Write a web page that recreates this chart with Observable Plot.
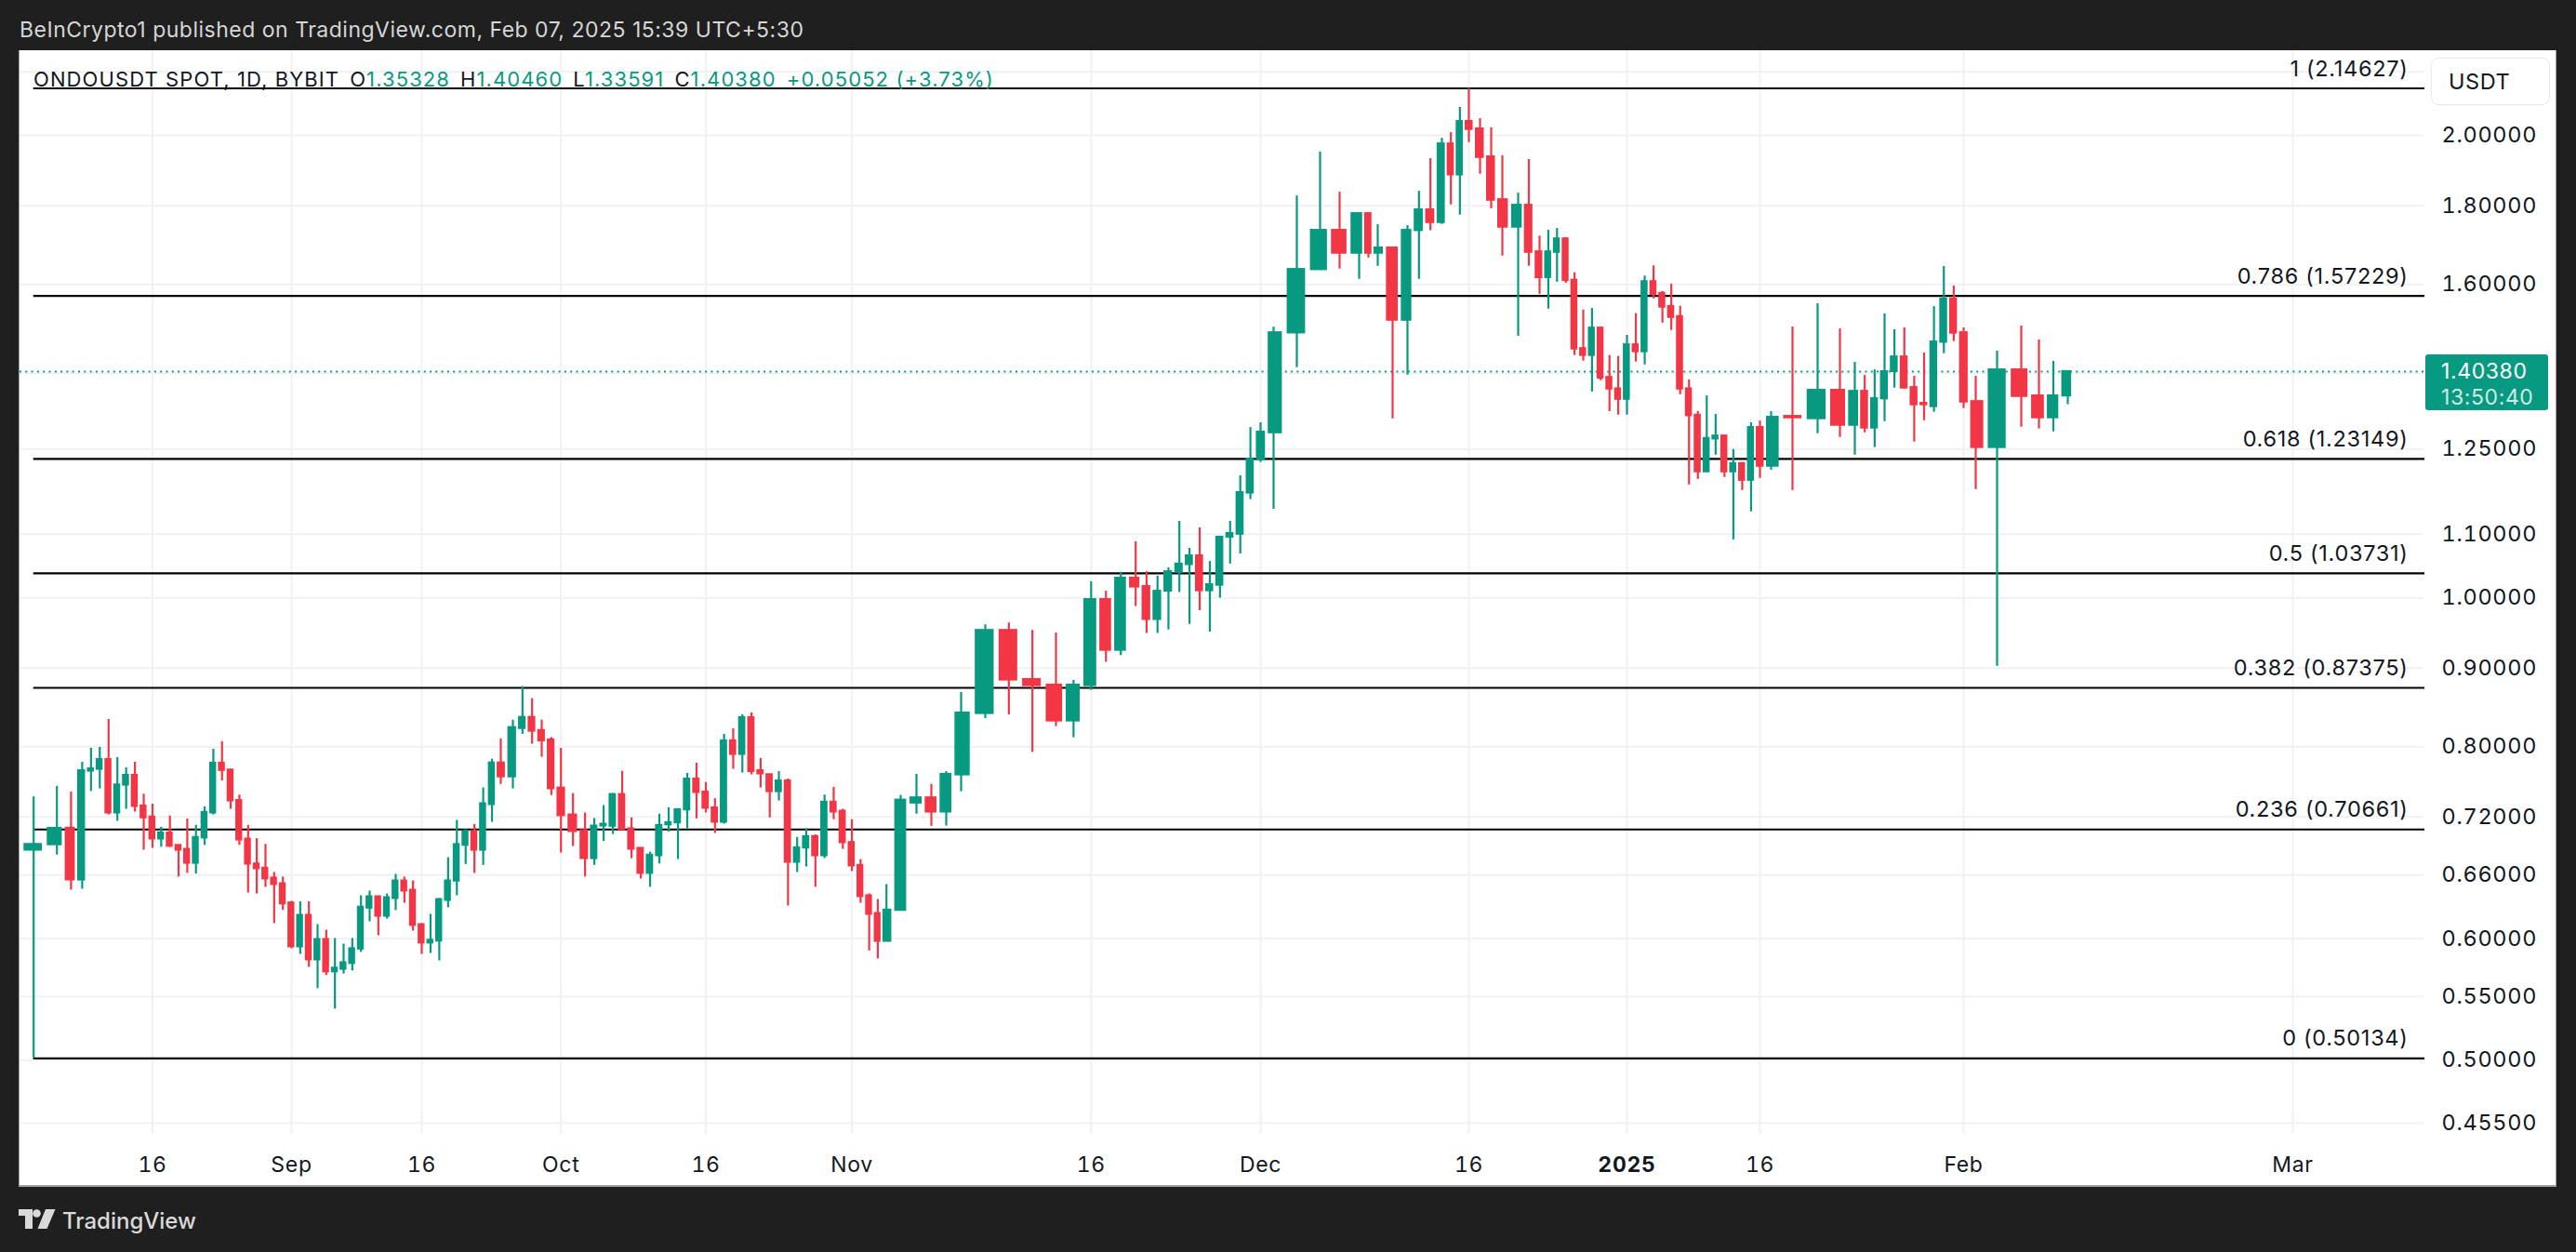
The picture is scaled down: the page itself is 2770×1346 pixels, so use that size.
<!DOCTYPE html>
<html>
<head>
<meta charset="utf-8">
<script src="https://cdn.jsdelivr.net/npm/d3@7"></script>
<script src="https://cdn.jsdelivr.net/npm/@observablehq/plot@0.6"></script>
<style>
  html, body { margin: 0; padding: 0; background: #1f1f1f; width: 2770px; height: 1346px; overflow: hidden; }
  body { font-family: Inter, "Noto Sans", sans-serif; }
  #stage { position: relative; width: 2770px; height: 1346px; }
  #panel { position: absolute; left: 20px; top: 54px; width: 2729px; height: 1222px; background: #ffffff;
           box-sizing: border-box; border-left: 1px solid #a0a0a0; border-right: 1px solid #a0a0a0; border-bottom: 2px solid #a0a0a0; }
  #chart { position: absolute; left: 0; top: 0; }
  #title { position: absolute; left: 21px; top: 18px; font-size: 23px; line-height: 28px; letter-spacing: 0.5px; color: #d6d6d6; white-space: nowrap; }
  #symbol { position: absolute; left: 36px; top: 72px; font-size: 22px; line-height: 26px; letter-spacing: 1.1px; color: #131722; white-space: nowrap; }
  #symbol .v { color: #089981; }
  #symbol .g { margin-left: 11px; }
  #usdt { position: absolute; left: 2614px; top: 62px; width: 128px; height: 51px; box-sizing: border-box;
          border: 1px solid #e6e8ee; border-radius: 8px; font-size: 23.5px; line-height: 49px; padding-left: 18px; letter-spacing: 0.6px; color: #131722; }
  #tag { position: absolute; left: 2608px; width: 132px; height: 60px; background: #089981; border-radius: 3px; color: #fff; letter-spacing: 0.6px; }
  #tag .l1 { position: absolute; left: 17px; top: 4px; font-size: 23px; line-height: 28px; }
  #tag .l2 { position: absolute; left: 17px; top: 32px; font-size: 23px; line-height: 28px; color: rgba(255,255,255,0.82); }
  #footer { position: absolute; left: 20px; top: 1298px; height: 30px; color: #d9d9d9; font-size: 24px; line-height: 29px; white-space: nowrap; }
  #footer svg { position: absolute; left: 0; top: 2px; }
  #footer span { position: absolute; left: 47px; top: 0; font-weight: 500; }
</style>
</head>
<body>
<div id="stage">
  <div id="panel"></div>
  <div id="chart"></div>
  <div id="title">BeInCrypto1 published on TradingView.com, Feb 07, 2025 15:39 UTC+5:30</div>
  <div id="symbol"></div>
  <div id="usdt">USDT</div>
  <div id="tag"><div class="l1"></div><div class="l2"></div></div>
  <div id="footer">
    <svg width="40" height="22" viewBox="0 0 40 22">
      <path d="M0 0 H15 V21 H7 V7 H0 Z" fill="#d9d9d9"/>
      <circle cx="19.5" cy="4.5" r="4.3" fill="#d9d9d9"/>
      <path d="M29 0 H39.5 L30.5 21 H20.5 Z" fill="#d9d9d9"/>
    </svg>
    <span>TradingView</span>
  </div>
</div>
<script>
// ---------- data (daily candles, ONDOUSDT, Bybit) ----------
const firstDay = "2024-08-05";
const candleCount = 187; // 2024-08-05 .. 2025-02-07

const open = [
  .685,.6906,.708,.655,.7711,.7733,.7848,.7243,.7552,.7665,.732,.72,.6966,.703,.690,.686,.6717,.6976,.7243,.7805,.7726,.738,.6966,.6711,.6668,.657,.6515,
  .633,.5926,.6213,.5811,.5992,.5708,.573,.578,.5906,.628,.6389,.6204,.6371,.6542,.6452,.6127,.596,.5977,.6353,.654,.69,.7044,.685,.7334,.7808,.7646,.822,.836,.8198,.8082,
  .752,.7222,.7054,.6764,.7103,.71,.7447,.7074,.687,.6616,.6793,.7115,.7136,.7276,.7622,.7475,.73,.7143,.8071,.7907,.8357,.7718,.7672,.7478,.760,.6727,.6872,.6992,.6793,.7362,.7263,
  .693,.6696,.6398,.6231,.5975,.6259,.7351,.741,.7253,.7668,.8407,.9524,.8848,.8774,.8314,.8766,.9975,.9243,1.030,1.0172,.968,1.010,1.039,1.051,1.065,1.0106,1.019,1.095,1.100,1.170,
  1.2305,1.2806,1.4874,1.6354,1.735,1.6762,1.779,1.6762,1.6897,1.516,1.734,1.789,1.7551,1.975,1.885,2.0424,2.020,1.937,1.8165,1.743,1.8015,1.68,1.616,1.6785,1.713,1.610,1.4532,1.438,1.4985,1.3917,1.368,
  1.3465,1.4614,1.446,1.6065,1.5785,1.548,1.5245,1.368,1.315,1.2078,1.2688,1.2747,1.2078,1.223,1.1926,1.291,1.218,1.3127,1.3079,1.365,1.2951,1.363,1.2897,1.3474,1.4036,1.4352,1.3707,1.3386,1.3318,1.4667,1.5649,
  1.4881,1.3422,1.2526,1.4075,1.3536,1.3097,1.35328
];
const high = [
  .742,.7538,.7475,.7815,.7981,.7992,.8333,.787,.775,.7815,.745,.734,.709,.721,.690,.7179,.711,.731,.797,.806,.7726,.744,.711,.697,.691,.6625,.658,
  .6345,.634,.634,.6127,.6076,.600,.595,.600,.6398,.6443,.6389,.6415,.6606,.658,.6542,.6136,.6222,.6371,.6774,.7163,.7064,.712,.752,.7852,.8093,.8325,.8754,.8597,.8325,.811,
  .798,.7457,.7243,.7183,.7324,.7457,.771,.719,.687,.683,.723,.730,.729,.7686,.7805,.758,.740,.815,.8218,.8392,.8415,.786,.7672,.7707,.7622,.6982,.7073,.701,.744,.7527,.7284,
  .717,.6755,.6416,.6362,.6506,.7437,.7676,.756,.7707,.8679,.9604,.963,.9524,.9487,.8836,1.0244,1.010,1.039,1.0876,1.040,1.033,1.046,1.1214,1.077,1.1106,1.056,1.0953,1.1214,1.2008,1.2909,
  1.300,1.5004,1.8267,1.951,1.8369,1.7815,1.779,1.7495,1.6897,1.747,1.8395,1.9315,1.9915,2.0084,2.0857,2.1463,2.051,2.023,1.94,1.8343,1.929,1.72,1.735,1.7397,1.7155,1.628,1.5395,1.543,1.5004,1.438,1.436,
  1.482,1.531,1.620,1.645,1.583,1.600,1.548,1.3866,1.3225,1.3536,1.3164,1.2747,1.249,1.2248,1.300,1.3035,1.322,1.5009,1.554,1.4966,1.4233,1.3958,1.4075,1.5304,1.4946,1.4987,1.3939,1.4435,1.5475,1.6432,1.5958,
  1.4987,1.3939,1.4474,1.5031,1.4718,1.4253,1.4046
];
const low = [
  .50134,.6801,.6452,.6461,.748,.751,.7222,.7153,.7283,.7253,.685,.687,.688,.688,.658,.6616,.661,.690,.7222,.760,.7283,.690,.6425,.6415,.6479,.6136,.626,
  .591,.586,.5747,.5566,.5676,.5398,.569,.5716,.5877,.6153,.6025,.6178,.6257,.6327,.6068,.586,.5868,.5803,.6284,.6398,.6705,.6616,.6696,.7143,.756,.751,.815,.803,.7874,.7435,
  .6821,.6888,.658,.6696,.694,.7014,.7054,.6764,.656,.648,.671,.704,.6755,.7073,.718,.7244,.7025,.7123,.7733,.769,.7668,.752,.719,.7375,.630,.6625,.668,.648,.6765,.717,.6859,
  .6634,.6327,.589,.582,.5975,.6259,.723,.710,.7102,.7478,.8345,.839,.7931,.8245,.8108,.8705,.908,.917,.987,.948,.948,.953,1.008,.961,.981,.950,.9995,1.052,1.068,1.1587,
  1.225,1.142,1.4121,1.6354,1.637,1.612,1.6645,1.6438,1.3077,1.3963,1.612,1.734,1.7503,1.8023,1.775,1.979,1.887,1.792,1.669,1.480,1.644,1.576,1.5416,1.605,1.6026,1.438,1.426,1.3616,1.3846,1.322,1.3151,
  1.3151,1.424,1.418,1.5655,1.5097,1.493,1.356,1.1844,1.1943,1.2078,1.2385,1.1977,1.0908,1.1745,1.1376,1.196,1.211,1.1745,1.279,1.2718,1.2385,1.2806,1.2526,1.3023,1.3695,1.3676,1.263,1.304,1.3207,1.442,1.4685,
  1.3281,1.1762,.9024,1.2915,1.288,1.2826,1.33591
];
const close = [
  .691,.7079,.6551,.7718,.774,.7848,.7243,.7555,.7665,.7314,.719,.6966,.703,.689,.685,.6717,.6982,.725,.7805,.772,.7375,.6956,.6708,.6662,.6561,.6506,.632,
  .5926,.6213,.5811,.5992,.5708,.574,.5787,.591,.629,.6389,.6204,.638,.6542,.6443,.612,.596,.5985,.6362,.6542,.6909,.7044,.685,.7345,.7808,.7646,.8233,.836,.8187,.807,.751,
  .7213,.7044,.6764,.7103,.7123,.7447,.7064,.686,.6616,.680,.711,.7139,.728,.7622,.7468,.7294,.7143,.8071,.7907,.8357,.7707,.7679,.7478,.760,.6727,.6875,.6992,.6793,.7362,.7253,.6927,
  .669,.6389,.6222,.5975,.6262,.7385,.741,.7253,.7676,.8415,.9524,.884,.8766,.8314,.8774,.9975,.9243,1.030,1.0163,.968,1.010,1.040,1.052,1.065,1.0106,1.020,1.0953,1.1013,1.171,1.2313,
  1.282,1.4881,1.6362,1.735,1.6762,1.779,1.6762,1.6897,1.516,1.735,1.789,1.7551,1.975,1.885,2.0424,2.018,1.935,1.8148,1.743,1.8015,1.6785,1.616,1.68,1.713,1.609,1.452,1.438,1.4985,1.390,1.3674,1.3465,
  1.4614,1.446,1.6065,1.576,1.546,1.5224,1.3674,1.3138,1.2078,1.270,1.2747,1.2078,1.223,1.1926,1.291,1.218,1.3109,1.3097,1.365,1.2951,1.363,1.2897,1.348,1.4036,1.4352,1.3695,1.3355,1.3355,1.4676,1.5649,1.4869,
  1.341,1.2526,1.4075,1.3523,1.3097,1.3536,1.4038
];

// Fibonacci retracement levels drawn on the chart
const fibLevels = ["1", "0.786", "0.618", "0.5", "0.382", "0.236", "0"];
const fibPrices = [2.14627, 1.57229, 1.23149, 1.03731, 0.87375, 0.70661, 0.50134];

// last price / header
const lastPrice = 1.40380;
const countdown = "13:50:40";
const ohlcHeader = {o: "1.35328", h: "1.40460", l: "1.33591", c: "1.40380", chg: "+0.05052 (+3.73%)"};

// axis ticks
const xTickDates = ["2024-08-16","2024-09-01","2024-09-16","2024-10-01","2024-10-16","2024-11-01","2024-11-16",
                    "2024-12-01","2024-12-16","2025-01-16","2025-02-01","2025-03-01"];
const xYearTick = ["2025-01-01"];
const yGridTicks = [0.455,0.5,0.55,0.6,0.66,0.72,0.8,0.9,1.0,1.1,1.25,1.4,1.6,1.8,2.0,2.2];
const yLabelTicks = [0.455,0.5,0.55,0.6,0.66,0.72,0.8,0.9,1.0,1.1,1.25,1.6,1.8,2.0];

// ---------- layout: calibration of the (unevenly spaced) time axis ----------
const xCalDates = ["2024-08-05","2024-08-06","2024-08-07","2024-08-08","2024-08-16","2024-09-01","2024-09-16","2024-09-25","2024-09-26",
  "2024-10-01","2024-10-03","2024-10-16","2024-11-01","2024-11-05","2024-11-06","2024-11-07","2024-11-10","2024-11-11","2024-11-14",
  "2024-11-16","2024-11-19","2024-11-23","2024-12-01","2024-12-02","2024-12-04","2024-12-06","2024-12-08","2024-12-10","2024-12-13",
  "2024-12-16","2024-12-19","2024-12-20","2024-12-22","2025-01-01","2025-01-16","2025-01-17","2025-01-18","2025-01-19","2025-01-20",
  "2025-01-21","2025-01-24","2025-02-01","2025-02-02","2025-02-03","2025-02-04","2025-02-05","2025-02-07","2025-03-01","2025-03-14"];
const xCalPx = [35.7,60.7,75.9,87.9,163.5,313,453,538,551,
  602.7,628.6,758.5,915.6,952.7,968,985,1033,1059,1135,
  1172.8,1220.7,1267.7,1355,1369,1419,1461,1481,1513,1550,
  1579,1615,1632,1655,1749,1892,1904,1927,1954,1978,
  1994,2026,2111,2124,2147,2173,2192,2223,2465,2607];

const parse = d3.utcParse("%Y-%m-%d");
const days = d3.utcDay.range(parse(firstDay), d3.utcDay.offset(parse(firstDay), candleCount));
const candles = days.map((date, i) => ({date, open: open[i], high: high[i], low: low[i], close: close[i]}));

const UP = "#089981", DOWN = "#f23645", INK = "#131722";
const colorOf = d => d.close >= d.open ? UP : DOWN;
const startDate = days[0];
const endDate = parse(xCalDates[xCalDates.length - 1]);
const fibTable = fibLevels.map((level, i) => ({level, price: fibPrices[i], x1: startDate, x2: endDate}));

const monthFmt = d3.utcFormat("%b");
const tickFmt = d => d.getUTCDate() === 1 ? monthFmt(d) : String(d.getUTCDate());

const plot = Plot.plot({
  width: 2770,
  height: 1346,
  marginTop: 54,
  marginLeft: 21,
  marginRight: 164,
  marginBottom: 127,
  style: {background: "transparent", overflow: "visible", fontFamily: "Inter, 'Noto Sans', sans-serif", color: INK, letterSpacing: "0.7px"},
  x: {type: "utc", domain: xCalDates.map(parse), range: xCalPx},
  y: {type: "log", domain: [0.5, 2], range: [1139.3, 145.1]},
  marks: [
    Plot.gridX([...xTickDates, ...xYearTick].map(parse), {stroke: "#f0f1f3", strokeOpacity: 1, strokeWidth: 2}),
    Plot.gridY(yGridTicks, {stroke: "#f0f1f3", strokeOpacity: 1, strokeWidth: 2}),
    Plot.ruleY(fibTable, {y: "price", x1: "x1", x2: "x2", stroke: "#000", strokeWidth: 2.2}),
    Plot.text(fibTable, {x: "x2", y: "price", text: d => `${d.level} (${d.price.toFixed(5)})`,
      textAnchor: "end", dx: -18, dy: -21, fontSize: 23.5, fill: INK}),
    Plot.ruleY([lastPrice], {stroke: UP, strokeWidth: 2, strokeDasharray: "2,4.3"}),
    Plot.ruleX(candles, {x: "date", y1: "low", y2: "high", stroke: colorOf, strokeWidth: 2.2}),
    Plot.rect(candles, {
      x1: d => d3.utcHour.offset(d.date, -9.6),
      x2: d => d3.utcHour.offset(d.date, 9.6),
      y1: "open", y2: "close", fill: colorOf, insetTop: -1, insetBottom: -1
    }),
    Plot.axisX(xTickDates.map(parse), {tickSize: 0, tickPadding: 24, tickFormat: tickFmt, fontSize: 23, fill: INK, label: null}),
    Plot.axisX(xYearTick.map(parse), {tickSize: 0, tickPadding: 24, tickFormat: d => d3.utcFormat("%Y")(d), fontSize: 23, fontWeight: "bold", fill: INK, label: null}),
    Plot.axisY(yLabelTicks, {anchor: "right", tickSize: 0, tickPadding: 19, tickFormat: d3.format(".5f"), fontSize: 23.5, fill: INK, label: null})
  ]
});
document.getElementById("chart").appendChild(plot);

// header line with OHLC
document.getElementById("symbol").innerHTML =
  `ONDOUSDT SPOT, 1D, BYBIT<span class="g">O</span><span class="v">${ohlcHeader.o}</span>` +
  `<span class="g">H</span><span class="v">${ohlcHeader.h}</span>` +
  `<span class="g">L</span><span class="v">${ohlcHeader.l}</span>` +
  `<span class="g">C</span><span class="v">${ohlcHeader.c}</span>` +
  `<span class="g v">${ohlcHeader.chg}</span>`;

// last price tag, positioned with the plot's own y scale
const py = plot.scale("y").apply(lastPrice);
const tag = document.getElementById("tag");
tag.style.top = (py - 18) + "px";
tag.querySelector(".l1").textContent = lastPrice.toFixed(5);
tag.querySelector(".l2").textContent = countdown;
</script>
</body>
</html>
